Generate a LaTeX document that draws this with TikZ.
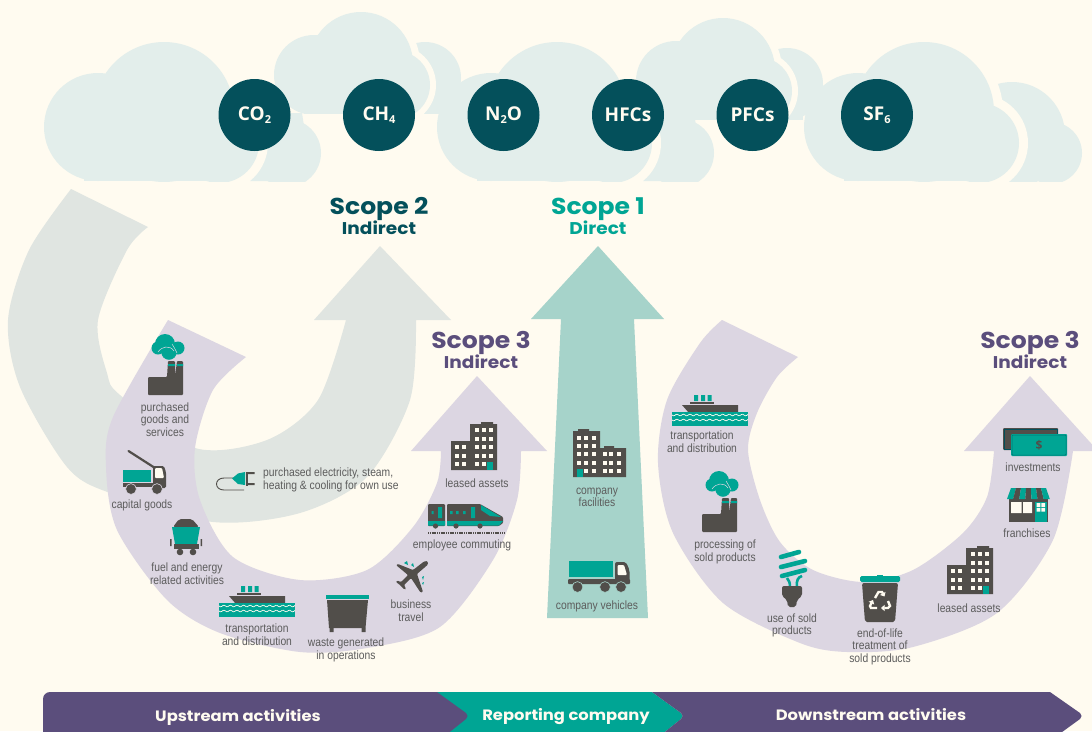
\documentclass[tikz,border=0pt]{standalone}
\usepackage{fontspec}
\setmainfont{Liberation Sans}
\newfontfamily\labfont[FakeStretch=0.86]{Liberation Sans}
\newfontfamily\headfont[FakeStretch=1.09]{Poppins}
\newfontfamily\gasfont{Open Sans}
\usetikzlibrary{arrows.meta}
\definecolor{bgc}{HTML}{FFFBF0}
\definecolor{cloudc}{HTML}{E3EEEB}
\definecolor{gasc}{HTML}{04505B}
\definecolor{tealc}{HTML}{00A594}
\definecolor{purc}{HTML}{5B4E7C}
\definecolor{lilac}{HTML}{DCD6E2}
\definecolor{grayarrow}{HTML}{E0E5E1}
\definecolor{tealarrow}{HTML}{A6D3CA}
\definecolor{icon}{HTML}{514E4A}
\definecolor{labc}{HTML}{5C5C5C}
\tikzset{
  gas/.style={circle,fill=gasc,minimum size=72pt,inner sep=0pt,text=bgc,font=\gasfont\bfseries\fontsize{19}{19}\selectfont},
  lab/.style={text=labc,align=center,inner sep=0pt,font=\labfont\fontsize{12}{12.6}\selectfont},
  bigscope/.style={inner sep=0pt,font=\headfont\bfseries\fontsize{23}{23}\selectfont},
  subscope/.style={inner sep=0pt,font=\headfont\bfseries\fontsize{17}{17}\selectfont},
  band/.style={inner sep=0pt,text=bgc,font=\headfont\bfseries\fontsize{15}{15}\selectfont},
  ic/.style={fill=icon},
  tl/.style={fill=tealc},
  lt/.style={fill=bgc},
}
\newcommand\cloudfront[1]{%
  \begin{scope}[shift={(#1,0)}]
    \fill[bgc] (164,112) circle[radius=79] (219,143) circle[radius=49];
    \fill[cloudc] (98,127) circle[radius=54] (164,112) circle[radius=70] (219,143) circle[radius=40];
    \fill[cloudc] (84,127) rectangle (232,181);
  \end{scope}}
\newcommand\cloudback[1]{%
  \begin{scope}[shift={(#1,0)}]
    \fill[cloudc] (287,153) circle[radius=34];
    \fill[cloudc] (250,119) -- (302,119) -- (304,133) -- (306,153) -- (306,181) -- (250,181) -- cycle;
  \end{scope}}
\newcommand\cloudupper[2]{%
  \begin{scope}[shift={(#1,#2)}]
    \fill[cloudc] (425,78) circle[radius=36];
    \fill[cloudc] (415,78) rectangle (441,125);
    \fill[bgc] (361,64) circle[radius=59] (396,85) circle[radius=40];
    \fill[cloudc] (314,75) circle[radius=40] (361,64) circle[radius=52] (396,85) circle[radius=34];
    \fill[cloudc] (310,60) rectangle (410,120);
  \end{scope}}
\newcommand\factoryicon[2]{%
  \begin{scope}[shift={(#1,#2)}]
    \fill[tl] (17,-33) circle[radius=10] (10,-29) circle[radius=6.5] (30,-29) circle[radius=6.5];
    \draw[tealc,fill=tealc] (21,-25) circle[radius=7.5];
    \draw[lilac,line width=.5pt] (10,-25) .. controls (14,-31) and (22,-32) .. (26,-26);
    \draw[lilac,line width=.5pt] (24,-33) .. controls (26,-30) and (27,-28) .. (29,-24);
    \fill[ic,rounded corners=1pt] (0,0) -- (19,0) -- (20,-16) -- (27,-16) -- (27,0) -- (29,-16) -- (35,-16) -- (35,18) -- (0,18) -- cycle;
    \fill[tl] (20,-13) rectangle (27,-11) (29,-13) rectangle (35,-11);
  \end{scope}}
\newcommand\shipicon[2]{%
  \begin{scope}[shift={(#1,#2)}]
    \fill[tl] (22,-17) rectangle (26,-11) (29,-17) rectangle (33,-11) (35.5,-17) rectangle (39.5,-11);
    \fill[ic] (18,-10) rectangle (42,-8);
    \fill[ic] (10,-7) -- (66,-7) -- (66,1) -- (17,1) -- cycle;
    \fill[tl] (0,0) rectangle (76,14);
    \draw[bgc,line width=.7pt] plot[domain=0:76,samples=60] (\x,{3+.8*sin(\x*55)});
    \draw[bgc,line width=.7pt] plot[domain=0:76,samples=60] (\x,{8+.8*sin(\x*55)});
  \end{scope}}
\newcommand\bldgwin[2]{\fill[lt] (#1,#2) rectangle ++(4,4);}
\begin{document}
\begin{tikzpicture}[x=1pt,y=-1pt]
\clip (0,0) rectangle (1092,731);
\fill[bgc] (0,0) rectangle (1092,731);
% --- clouds
\begin{scope}
  \clip (0,0) rectangle (1092,113);
  \cloudupper{0}{0}
\end{scope}
\begin{scope}
  \clip (0,0) rectangle (1092,119);
  \cloudupper{362}{6}
\end{scope}
\begin{scope}
  \clip (0,0) rectangle (1092,181);
  \fill[cloudc] (287,153) circle[radius=34];
  \fill[cloudc] (250,113) -- (302,113) -- (304,126) -- (306,153) -- (306,181) -- (250,181) -- cycle;
  \cloudfront{0}
  \cloudback{393}
  \cloudfront{393}
  \fill[cloudc] (1012,135) circle[radius=53] (1051,153) circle[radius=31];
  \fill[cloudc] (1000,135) rectangle (1051,181);
  \cloudfront{760}
\end{scope}
% --- scope 2 swirl
\fill[grayarrow] (380,246) -- (451,320) -- (416,320)
  -- plot[smooth] coordinates {(416,320) (410,400) (367,477) (300,513) (213,522) (110,493) (67,467) (20,387) (8,320) (29,250) (71,189)}
  -- (148,227)
  -- plot[smooth] coordinates {(148,227) (127,250) (98,320) (107,373) (120,395) (195,448) (267,440) (318,400) (346,320)}
  -- (314,320) -- cycle;
% --- scope 3 left
\fill[lilac] (477,376) -- (547,451) -- (521,451)
  -- plot[smooth] coordinates {(521,451) (517,500) (493,560) (440,627) (367,648) (300,652) (220,633) (167,600) (117,530) (106,467) (113,417) (168,320)}
  -- (246,357)
  -- plot[smooth] coordinates {(246,357) (213,390) (195,448) (200,500) (233,557) (300,580) (367,570) (413,527) (437,483) (441,451)}
  -- (411,451) -- cycle;
% --- scope 1
\fill[tealarrow] (598,246) -- (664,319) -- (634,319) -- (648,618) -- (547,618) -- (561,319) -- (531,319) -- cycle;
% --- scope 3 right
\fill[lilac] (1030,376) -- (1098,451) -- (1073,451)
  -- plot[smooth] coordinates {(1073,451) (1053,540) (997,613) (913,647) (847,652) (800,643) (723,603) (673,533) (658,463) (667,400) (700,343) (722,320)}
  -- (798,357)
  -- plot[smooth] coordinates {(798,357) (777,377) (757,413) (748,450) (760,500) (780,542) (813,570) (863,582) (913,570) (963,533) (987,497) (994,451)}
  -- (964,451) -- cycle;
% --- bottom band
\fill[tealc] (430,692) -- (652,692) -- (681,713) .. controls (683,715) and (683,717) .. (681,719) -- (661,735) -- (430,735) -- cycle;
\fill[purc,rounded corners=7pt] (43,745) -- (43,692) -- (300,692) [sharp corners] -- (437,692) -- (466,713) .. controls (468,715) and (468,717) .. (466,719) -- (446,735) -- (300,745) -- cycle;
\fill[purc] (652,692) -- (1050,692) -- (1080,713) .. controls (1082,715) and (1082,717) .. (1080,719) -- (1058,735) -- (661,735) -- (681,719) .. controls (683,717) and (683,715) .. (681,713) -- cycle;
\node[band] (up) at (238,717) {Upstream activities};
\node[band] (rep) at (566,717) {Reporting company};
\node[band] (down) at (871,715) {Downstream activities};
% --- gases
\newcommand\gassub[1]{\raisebox{-3pt}{\fontsize{11}{11}\selectfont #1}}
\node[gas] (co2) at (254.5,115) {CO\gassub{2}};
\node[gas] (ch4) at (379,115) {CH\gassub{4}};
\node[gas] (n2o) at (503.5,115) {N\gassub{2}O};
\node[gas] (hfc) at (628,115) {HFCs};
\node[gas] (pfc) at (752.5,115) {PFCs};
\node[gas] (sf6) at (877,115) {SF\gassub{6}};
% --- scope headings
\node[bigscope,text=gasc] (s2) at (379,209) {Scope 2};
\node[subscope,text=gasc] (s2b) at (379,228) {Indirect};
\node[bigscope,text=tealc] (s1) at (598,209) {Scope 1};
\node[subscope,text=tealc] (s1b) at (598,228) {Direct};
\node[bigscope,text=purc] (s3a) at (481,343) {Scope 3};
\node[subscope,text=purc] (s3ab) at (481,362) {Indirect};
\node[bigscope,text=purc] (s3c) at (1030,343) {Scope 3};
\node[subscope,text=purc] (s3cb) at (1030,362) {Indirect};
% --- labels
\node[lab] (l1) at (165,419.5) {purchased\\goods and\\services};
\node[lab] (l2) at (142,505) {capital goods};
\node[lab] (l3) at (187,574) {fuel and energy\\related activities};
\node[lab] (l4) at (257,634.5) {transportation\\and distribution};
\node[lab] (l5) at (346,650) {waste generated\\in operations};
\node[lab] (l6) at (411,611) {business\\travel};
\node[lab] (l7) at (462,545) {employee commuting};
\node[lab] (l8) at (477,483) {leased assets};
\node[lab,align=left,anchor=west] (l9) at (263,480) {purchased electricity, steam,\\heating \& cooling for own use};
\node[lab] (l10) at (597,497.5) {company\\facilities};
\node[lab] (l11) at (597,606) {company vehicles};
\node[lab] (l12) at (702,442) {transportation\\and distribution};
\node[lab] (l13) at (725,552) {processing of\\sold products};
\node[lab] (l14) at (792,625.5) {use of sold\\products};
\node[lab] (l15) at (880,646.5) {end-of-life\\treatment of\\sold products};
\node[lab] (l16) at (969,608) {leased assets};
\node[lab] (l17) at (1027,533) {franchises};
\node[lab] (l18) at (1033,467) {investments};
% --- icons
\factoryicon{148}{377}
\factoryicon{702}{514}
\shipicon{219}{603}
\shipicon{672}{412}
% crane truck
\draw[icon,line width=2.2pt,line cap=round] (128.5,451) -- (155,468);
\fill[tl] (123,470) rectangle (151,482);
\fill[ic,rounded corners=1.5pt] (153,466) -- (164,466) -- (166,472) -- (166,488) -- (153,488) -- cycle;
\fill[lt,rounded corners=1pt] (155,468) -- (162,468) -- (164,478) -- (155,478) -- cycle;
\fill[ic] (123,483) rectangle (166,487);
\draw[ic,draw=lilac,line width=.6pt] (131,489) circle[radius=5.4] (157,489) circle[radius=5.4];
% coal cart
\fill[ic,rounded corners=2pt] (173,527) -- (179,519) -- (192,519) -- (199,527) -- cycle;
\fill[tl] (172,527) -- (200,527) -- (197,544) -- (175,544) -- cycle;
\fill[ic] (170,539) rectangle (171.5,546) (200.5,539) rectangle (202,546);
\fill[ic] (174,544) rectangle (199,549);
\fill[ic] (180,552) circle[radius=3.3] (193,552) circle[radius=3.3];
% dumpster
\fill[tl] (326,595) rectangle (369,599);
\fill[ic] (327,600) -- (368,600) -- (365.5,628) -- (329,628) -- cycle;
\fill[ic] (329.5,628) rectangle (333.5,632) (361.5,628) rectangle (365.5,632);
% plane
\fill[tl] (404,563) -- (407,561) -- (408,565) -- cycle (411,565) -- (413,563) -- (414,567) -- cycle
  (422,577) -- (424,576) -- (423,580) -- cycle (422,583) -- (424,582) -- (423,585) -- cycle;
\fill[ic,rounded corners=1pt] (427.5,561) -- (428,564.5) -- (417,574) -- (423,592) -- (420.5,592.5) -- (411,578) -- (404,585) -- (406,589) -- (404.5,589.5) -- (400,585) -- (396,582) -- (397,580.5) -- (401,582) -- (408,575) -- (396,565) -- (398,564) -- (413,570) -- (424,561.5) -- cycle;
% train
\fill[ic,rounded corners=1pt] (428,504) rectangle (445,526);
\fill[ic,rounded corners=1pt] (447,504) -- (480,504) -- (503,517) -- (503,523) -- (499,526) -- (447,526) -- cycle;
\fill[tl] (428,521) rectangle (445,525.5) (447,521) -- (503,521) -- (499,525.5) -- (447,525.5) -- cycle;
\fill[tl] (481,505) -- (501,517) -- (490,516) -- (481,510) -- cycle;
\fill[tl] (438,507) rectangle (442,518) (471,507) rectangle (475,518);
\fill[tl] (431.5,511) rectangle (433.5,514) (450,511) rectangle (452.5,514) (456,511) rectangle (458.5,514) (463,511) rectangle (465.5,514);
\fill[ic] (435.5,526) circle[radius=2.6] (456,526) circle[radius=2.6] (480,526) circle[radius=2.6];
\draw[icon,line width=2pt,dash pattern=on 1.2pt off .6pt] (428,532.5) -- (504,532.5);
% leased assets (both)
\foreach \ox/\oy/\nm in {451/424/a,947/548/b}{
\begin{scope}[shift={(\ox,\oy)}]
  \fill[ic] (19,0) rectangle (46,46) (0,17) rectangle (19,46) (30,-2) rectangle (42,0);
  \foreach \wx in {23.7,30.7,37.7} \foreach \wy in {4.3,12.7,21.3,30,37.7} {\bldgwin{\wx}{\wy}}
  \foreach \wx in {4,11.3} \foreach \wy in {21.3,30,37.7} {\bldgwin{\wx}{\wy}}
  \fill[tl] (36.3,37.7) rectangle (42.3,46);
\end{scope}}
% company facilities
\begin{scope}[shift={(573,431)}]
  \fill[ic] (0,0) rectangle (27,46) (27,17) rectangle (53,46) (5,-2) rectangle (16,0) (31,15) rectangle (41,17);
  \foreach \wx in {4.3,11.3,18.7} \foreach \wy in {4.7,13,21.3,29.7,38} {\bldgwin{\wx}{\wy}}
  \foreach \wx in {29.7,36.3,43.7} \foreach \wy in {21.3,29.7,38} {\bldgwin{\wx}{\wy}}
  \fill[tl] (4.3,38) rectangle (9.7,46);
\end{scope}
% plug
\draw[icon,line width=.9pt] (234,478) -- (224,478) .. controls (214,478) and (214,490) .. (224,490) -- (244,490);
\fill[tl] (232,478.5) -- (238,473.5) -- (245,472) -- (245,485) -- (238,484) -- cycle;
\fill[ic] (245.5,471.5) rectangle (247.5,485.5);
\fill[ic] (246,472) rectangle (254.5,474) (246,483) rectangle (254.5,485);
% truck
\fill[tl] (569,561) rectangle (613,577);
\fill[ic,rounded corners=2pt] (615,562) -- (626,562) -- (629.5,570) -- (629.5,584) -- (615,584) -- cycle;
\fill[lt,rounded corners=1pt] (617.5,565) -- (624,565) -- (627,575) -- (617.5,575) -- cycle;
\fill[ic,rounded corners=1pt] (568,579) rectangle (630,584);
\draw[ic,draw=tealarrow,line width=.6pt] (577.5,587) circle[radius=5.4] (605,587) circle[radius=5.4] (621,587) circle[radius=5.4];
% bulb
\draw[tealc,line width=4.6pt,line cap=round] (781,557) -- (799,552) (781,567) -- (805,561) (782,576) -- (805,570);
\draw[tealc,line width=2.6pt] (787,578) .. controls (789,580) and (790,583) .. (790,587)
  (797,587) .. controls (796,581) and (798,577) .. (802,576);
\fill[ic,rounded corners=2pt] (782,586) -- (802,586) -- (802,596) -- (797,600) -- (796,607) -- (788,607) -- (787,600) -- (782,596) -- cycle;
% trash bin
\fill[tl,rounded corners=1.5pt] (860,576) rectangle (900,582);
\fill[tl] (877,575) rectangle (883,577);
\fill[ic,rounded corners=2pt] (862,583) -- (898,583) -- (895,622) -- (865,622) -- cycle;
\begin{scope}[shift={(880,600)}]
  \draw[bgc,line width=2.4pt,-{Triangle[length=3.5pt,width=6pt]}] (-5,-2) -- (-1.5,-8) -- (2,-8) -- (4.5,-3.5);
  \draw[bgc,line width=2.4pt,-{Triangle[length=3.5pt,width=6pt]}] (8,1) -- (10,6) -- (8,8) -- (1,8);
  \draw[bgc,line width=2.4pt,-{Triangle[length=3.5pt,width=6pt]}] (-3,8) -- (-9,8) -- (-10,6) -- (-7,0);
\end{scope}
% money
\fill[ic,rounded corners=1pt] (1003,428) rectangle (1058,450);
\draw[gasc,line width=.5pt] (1004,429) rectangle (1057,449);
\fill[tl,rounded corners=1pt] (1011,434) rectangle (1067,456);
\draw[gasc!60!tealc,line width=.5pt,rounded corners=1pt] (1012,435) rectangle (1066,455);
\node[inner sep=0pt,text=icon,font=\gasfont\bfseries\fontsize{12}{12}\selectfont] (usd) at (1039,445) {\$};
% store
\fill[ic] (1009,499) rectangle (1048,522);
\foreach \i/\c in {0/tealc,1/icon,2/tealc,3/icon,4/tealc,5/icon,6/tealc}{
  \fill[\c] ({1011+\i*5},488) -- ({1016+\i*5},488) -- ({1013.2+\i*6.1},499) -- ({1007+\i*6.1},499) -- cycle;
}
\fill[lt] (1011,502) rectangle (1021.5,513) (1023,502) rectangle (1032,513);
\fill[tl] (1035,502) rectangle (1046.5,522);
\fill[lt] (1036.5,503) rectangle (1040.3,507) (1041.3,503) rectangle (1045,507) (1036.5,508) rectangle (1040.3,511.5) (1041.3,508) rectangle (1045,511.5);
\end{tikzpicture}
\end{document}
